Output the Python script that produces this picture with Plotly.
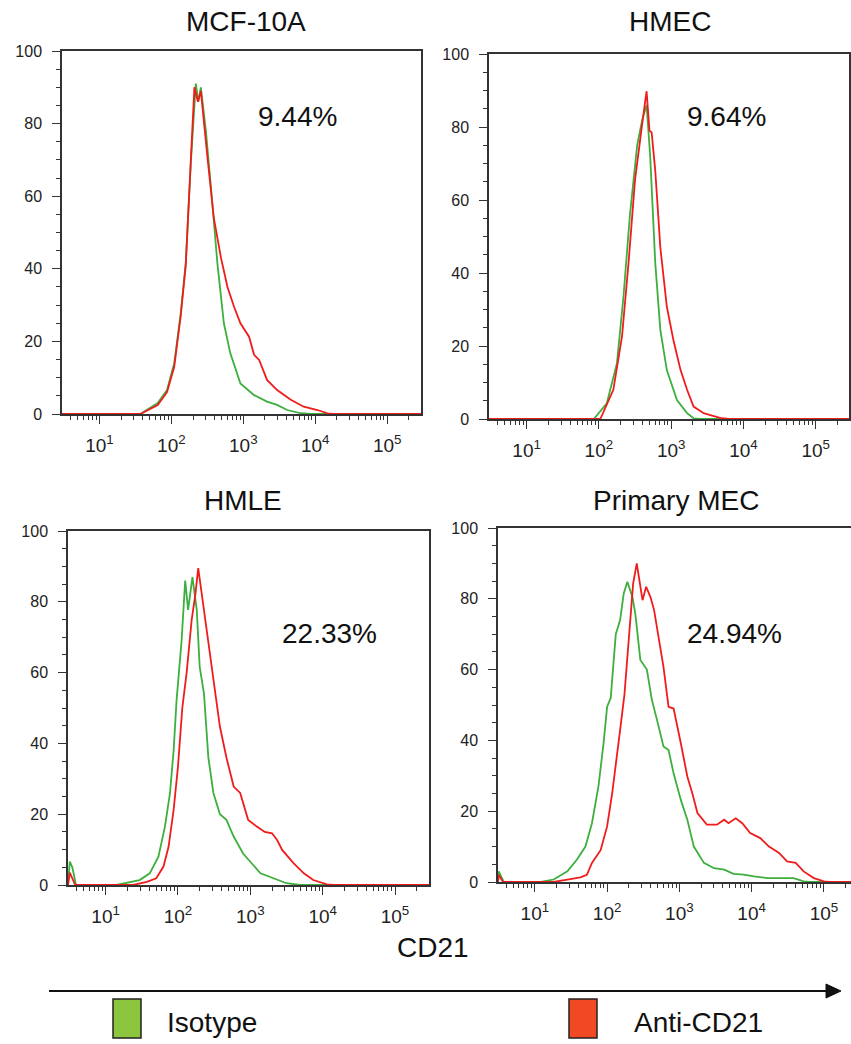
import plotly.graph_objects as go

# ---------------- data (log10 fluorescence, % of max) ----------------
panels = ["MCF-10A", "HMEC", "HMLE", "Primary MEC"]
percent_labels = ["9.44%", "9.64%", "22.33%", "24.94%"]

mcf_iso_log = [0.48, 1.57, 1.81, 1.94, 2.04, 2.13, 2.20, 2.27, 2.34, 2.375, 2.41, 2.48, 2.55, 2.64, 2.73, 2.82, 2.96, 3.15, 3.33, 3.47, 3.61, 3.80, 3.95, 5.47]
mcf_iso_val = [0, 0, 3, 6.6, 14, 27.7, 41.5, 69, 91, 86, 90, 78, 62.6, 41.5, 25, 16.7, 8.4, 5.2, 3.4, 2.5, 1.1, 0.2, 0, 0]
mcf_anti_log = [0.48, 1.57, 1.81, 1.94, 2.04, 2.13, 2.20, 2.27, 2.32, 2.37, 2.41, 2.50, 2.59, 2.69, 2.78, 2.87, 2.96, 3.08, 3.15, 3.22, 3.33, 3.47, 3.66, 3.84, 4.03, 4.17, 4.25, 5.47]
mcf_anti_val = [0, 0, 2.5, 6, 13, 27, 41, 68, 90, 86, 89, 71, 54, 43, 35, 29.6, 25, 21.3, 16.3, 14.9, 9.4, 6.6, 3.9, 2, 1.1, 0.2, 0, 0]

hmec_iso_log = [0.48, 1.93, 2.11, 2.25, 2.34, 2.43, 2.53, 2.60, 2.66, 2.71, 2.78, 2.85, 2.94, 3.08, 3.22, 3.31, 3.40, 5.46]
hmec_iso_val = [0, 0, 4.3, 15.3, 33.5, 56, 75, 82, 86, 72, 42.7, 24.4, 13.4, 5.2, 1.6, 0.2, 0, 0]
hmec_anti_log = [0.48, 2.02, 2.20, 2.32, 2.41, 2.50, 2.60, 2.66, 2.70, 2.73, 2.78, 2.85, 2.94, 3.03, 3.13, 3.22, 3.31, 3.45, 3.59, 3.70, 3.80, 5.46]
hmec_anti_val = [0, 0, 8, 22.6, 42.7, 65.5, 81, 89.8, 79, 78.5, 68, 47, 30.8, 21.7, 13.4, 8, 3.4, 1.6, 0.8, 0.2, 0, 0]

hmle_iso_log = [0.48, 0.505, 0.54, 0.59, 1.15, 1.29, 1.47, 1.61, 1.73, 1.82, 1.89, 1.94, 1.98, 2.05, 2.10, 2.14, 2.20, 2.26, 2.30, 2.36, 2.42, 2.49, 2.58, 2.67, 2.77, 2.90, 3.00, 3.14, 3.32, 3.50, 3.69, 5.47]
hmle_iso_val = [0, 6.6, 5, 0, 0, 0.7, 1.4, 3.3, 8, 16.5, 26, 38, 52, 69, 86, 77.7, 87, 77.7, 61.7, 54, 36, 26, 20, 18.4, 13.7, 8.9, 6.6, 3.3, 1.9, 0.5, 0, 0]
hmle_anti_log = [0.48, 0.505, 0.58, 1.38, 1.57, 1.70, 1.80, 1.87, 1.94, 2.00, 2.06, 2.12, 2.19, 2.24, 2.28, 2.33, 2.40, 2.49, 2.58, 2.67, 2.77, 2.86, 2.97, 3.09, 3.20, 3.30, 3.37, 3.44, 3.50, 3.60, 3.74, 3.87, 4.06, 4.15, 5.47]
hmle_anti_val = [0, 3.5, 0, 0, 0.9, 1.9, 5.2, 10.8, 21.2, 33.4, 50, 60, 75, 82, 89.5, 82, 71, 57, 44.7, 36, 27.8, 26, 18.4, 16.5, 15, 14.6, 12.7, 9.9, 8.5, 6.1, 3.3, 1.4, 0.2, 0, 0]

pmec_iso_log = [0.49, 0.50, 0.57, 1.08, 1.26, 1.45, 1.58, 1.70, 1.79, 1.88, 1.95, 2.00, 2.05, 2.12, 2.18, 2.23, 2.28, 2.35, 2.39, 2.46, 2.55, 2.62, 2.69, 2.78, 2.85, 2.92, 3.02, 3.11, 3.20, 3.34, 3.48, 3.62, 3.75, 3.89, 4.03, 4.22, 4.58, 4.72, 4.80, 5.375]
pmec_iso_val = [0, 3, 0, 0, 0.7, 3, 6.3, 10, 16.6, 27, 39, 49.5, 52, 70, 74, 81.5, 84.8, 80.5, 75.8, 62.7, 60, 51.4, 45.8, 38.3, 37.3, 30.7, 23.2, 17.6, 10, 5.4, 3.9, 3.5, 2.3, 2.1, 1.6, 1.1, 1.1, 0.2, 0, 0]
pmec_anti_log = [0.49, 0.50, 0.56, 1.26, 1.45, 1.63, 1.72, 1.79, 1.91, 2.00, 2.07, 2.14, 2.18, 2.24, 2.30, 2.36, 2.41, 2.45, 2.49, 2.54, 2.60, 2.65, 2.72, 2.78, 2.85, 2.92, 3.02, 3.11, 3.18, 3.25, 3.38, 3.52, 3.62, 3.68, 3.78, 3.87, 3.98, 4.12, 4.24, 4.38, 4.49, 4.61, 4.72, 4.86, 5.00, 5.08, 5.375]
pmec_anti_val = [0, 2, 0, 0, 0.7, 1.3, 2, 5.4, 9, 15.7, 25, 37.3, 43, 53, 70, 84.3, 90, 85, 79.6, 83.4, 80.5, 76.8, 68.3, 60.8, 49.5, 49, 39.2, 29.8, 25, 19.5, 16.2, 16.2, 17.6, 16.6, 18, 16.6, 13.8, 12.4, 10, 8.2, 5.8, 5.4, 3, 1.1, 0.2, 0, 0]

iso_logs = [mcf_iso_log, hmec_iso_log, hmle_iso_log, pmec_iso_log]
iso_vals = [mcf_iso_val, hmec_iso_val, hmle_iso_val, pmec_iso_val]
anti_logs = [mcf_anti_log, hmec_anti_log, hmle_anti_log, pmec_anti_log]
anti_vals = [mcf_anti_val, hmec_anti_val, hmle_anti_val, pmec_anti_val]

y_ticks = [0, 20, 40, 60, 80, 100]
x_decades = [1, 2, 3, 4, 5]
x_tick_text = ["10<sup>1</sup>", "10<sup>2</sup>", "10<sup>3</sup>", "10<sup>4</sup>", "10<sup>5</sup>"]
legend_labels = ["Isotype", "Anti-CD21"]
axis_title = "CD21"

# ---------------- layout helpers ----------------
W, H = 851, 1044
def px(x):
    return x / W
def py(y):
    return 1 - y / H

GREEN = "#3daf3d"
RED = "#f01c1c"
FONT = "Liberation Sans, Arial, sans-serif"

# panel boxes in pixels: (left, right, top, bottom), x range (log)
boxes = [(62, 421, 51, 414), (489, 849, 54, 419), (68, 429, 531, 885), (498, 851, 528, 882)]
xranges = [[0.48, 5.47], [0.48, 5.46], [0.48, 5.47], [0.49, 5.375]]
title_pos = [(246, 22), (670, 22), (243, 500), (676, 500)]
pct_pos = [(297, 116), (726, 116), (329, 633), (734, 633)]

fig = go.Figure()
minor_vals = [m * 10 ** d for d in range(0, 6) for m in range(2, 10)]

for i in range(4):
    ax = "" if i == 0 else str(i + 1)
    fig.add_trace(go.Scatter(x=[10 ** v for v in iso_logs[i]], y=iso_vals[i], mode="lines",
                             line=dict(color=GREEN, width=1.8), xaxis="x" + ax, yaxis="y" + ax,
                             showlegend=False, hoverinfo="skip"))
    fig.add_trace(go.Scatter(x=[10 ** v for v in anti_logs[i]], y=anti_vals[i], mode="lines",
                             line=dict(color=RED, width=1.8), xaxis="x" + ax, yaxis="y" + ax,
                             showlegend=False, hoverinfo="skip"))
    l, r, t, b = boxes[i]
    fig.update_layout(**{
        "xaxis" + ax: dict(
            type="log", range=xranges[i], domain=[px(l), px(r)], anchor="y" + ax,
            tickvals=[10 ** d for d in x_decades], ticktext=x_tick_text,
            ticks="outside", ticklen=8, tickwidth=1, tickcolor="#333",
            minor=dict(tickvals=minor_vals, ticks="outside", ticklen=4, tickwidth=1, tickcolor="#333"),
            showline=True, linecolor="#333", linewidth=1.5, mirror=True,
            showgrid=False, zeroline=False, ticklabelstandoff=5, automargin=False,
            tickfont=dict(family=FONT, size=19, color="#222"),
        ),
        "yaxis" + ax: dict(
            range=[0, 100], domain=[py(b), py(t)], anchor="x" + ax,
            tickvals=y_ticks, ticks="outside", ticklen=8, tickwidth=1, tickcolor="#333",
            minor=dict(dtick=5, ticks="outside", ticklen=4, tickwidth=1, tickcolor="#333"),
            showline=True, linecolor="#333", linewidth=1.5, mirror=(i != 3),
            showgrid=False, zeroline=False, ticklabelstandoff=7, automargin=False,
            tickfont=dict(family=FONT, size=16, color="#222"),
        ),
    })
    fig.add_annotation(x=px(title_pos[i][0]), y=py(title_pos[i][1]), xref="paper", yref="paper",
                       text=panels[i], showarrow=False, xanchor="center", yanchor="middle",
                       font=dict(family=FONT, size=28, color="#111"))
    fig.add_annotation(x=px(pct_pos[i][0]), y=py(pct_pos[i][1]), xref="paper", yref="paper",
                       text=percent_labels[i], showarrow=False, xanchor="center", yanchor="middle",
                       font=dict(family=FONT, size=28, color="#111"))

# axis title + arrow + legend
fig.add_annotation(x=px(433), y=py(947), xref="paper", yref="paper", text=axis_title, showarrow=False,
                   xanchor="center", yanchor="middle", font=dict(family=FONT, size=28, color="#111"))
fig.add_shape(type="line", xref="paper", yref="paper", x0=px(49), x1=px(828), y0=py(991), y1=py(991),
              line=dict(color="#111", width=2))
fig.add_shape(type="path", xref="paper", yref="paper",
              path=f"M {px(826)} {py(984)} L {px(841)} {py(991)} L {px(826)} {py(998)} Z",
              fillcolor="#111", line=dict(color="#111", width=1))
leg_boxes = [(113, 141, "#8cc63f"), (569, 597, "#f04923")]
leg_text_x = [165, 632]
for (x0, x1, c), tx, lab in zip(leg_boxes, leg_text_x, legend_labels):
    fig.add_shape(type="rect", xref="paper", yref="paper", x0=px(x0), x1=px(x1), y0=py(1038), y1=py(999),
                  fillcolor=c, line=dict(color="#222", width=1.5))
    fig.add_annotation(x=px(tx), y=py(1022), xref="paper", yref="paper", text=lab, showarrow=False,
                       xanchor="left", yanchor="middle", font=dict(family=FONT, size=28, color="#111"))

fig.update_layout(width=W, height=H, margin=dict(l=0, r=0, t=0, b=0, pad=0, autoexpand=False),
                  paper_bgcolor="white", plot_bgcolor="white", showlegend=False)
fig.write_html(
    "out.html",
    config={"displayModeBar": False},
    post_script=("document.documentElement.style.margin='0';document.body.style.margin='0';"
                 "document.body.style.padding='0';document.body.style.overflow='hidden';"),
)
